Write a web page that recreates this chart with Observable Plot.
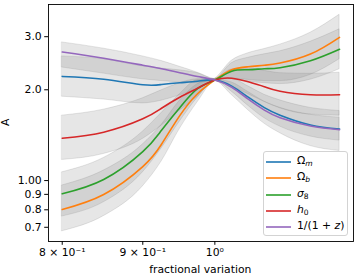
<!DOCTYPE html>
<html><head><meta charset="utf-8">
<script src="https://cdn.jsdelivr.net/npm/d3@7"></script>
<script src="https://cdn.jsdelivr.net/npm/@observablehq/plot@0.6"></script>
<style>
body{margin:0;background:#fff;}
#wrap{position:relative;width:357px;height:277px;font-family:"DejaVu Sans",sans-serif;}
.leg{position:absolute;left:263px;top:151px;width:85px;height:85px;border:1px solid #d3d3d3;border-radius:3px;background:rgba(255,255,255,0.8);box-sizing:border-box;font-size:10.8px;color:#000;}
.row{position:absolute;left:0;height:14px;width:84px;}
.row svg{position:absolute;left:2px;top:0;}
.row span{position:absolute;left:33px;top:-1px;white-space:nowrap;line-height:14px;}
sub{font-size:0.7em;vertical-align:-0.25em;}
i{font-style:italic;}
</style></head><body><div id="wrap"></div>
<script>
// fractional variation (x)
const xs = [0.8, 0.85, 0.9, 0.925, 0.95, 0.975, 1, 1.025, 1.05, 1.075, 1.1, 1.15, 1.2];

// central curves of A
const omegaM = [2.215, 2.168, 2.079, 2.082, 2.111, 2.135, 2.155, 2.056, 1.890, 1.745, 1.648, 1.529, 1.483];
const omegaB = [0.802, 0.899, 1.113, 1.320, 1.642, 1.941, 2.155, 2.331, 2.385, 2.413, 2.453, 2.627, 2.985];
const sigma8 = [0.904, 1.008, 1.247, 1.468, 1.745, 2.017, 2.155, 2.305, 2.331, 2.349, 2.367, 2.497, 2.726];
const h0     = [1.382, 1.447, 1.602, 1.737, 1.890, 2.025, 2.155, 2.185, 2.127, 2.048, 1.978, 1.926, 1.926];
const scaleF = [2.668, 2.545, 2.413, 2.349, 2.279, 2.213, 2.155, 2.040, 1.862, 1.712, 1.617, 1.516, 1.475];

// uncertainty bands (lower / upper)
const omegaMLo = [1.897, 1.857, 1.803, 1.840, 1.917, 2.007, 2.138, 1.922, 1.711, 1.545, 1.436, 1.302, 1.254];
const omegaMHi = [2.580, 2.526, 2.392, 2.352, 2.320, 2.270, 2.170, 2.171, 2.053, 1.926, 1.845, 1.742, 1.701];
const omegaBLo = [0.679, 0.762, 0.956, 1.156, 1.482, 1.817, 2.138, 2.180, 2.157, 2.138, 2.138, 2.241, 2.526];
const omegaBHi = [0.963, 1.079, 1.317, 1.529, 1.839, 2.088, 2.174, 2.496, 2.643, 2.729, 2.823, 3.092, 3.546];
const sigma8Lo = [0.760, 0.847, 1.064, 1.278, 1.568, 1.880, 2.138, 2.168, 2.127, 2.104, 2.089, 2.160, 2.340];
const sigma8Hi = [1.065, 1.188, 1.452, 1.675, 1.933, 2.153, 2.172, 2.450, 2.554, 2.622, 2.683, 2.886, 3.174];
const h0Lo     = [1.171, 1.225, 1.374, 1.521, 1.705, 1.893, 2.138, 2.050, 1.933, 1.825, 1.736, 1.655, 1.642];
const h0Hi     = [1.642, 1.718, 1.874, 1.992, 2.102, 2.168, 2.173, 2.336, 2.352, 2.311, 2.271, 2.260, 2.279];
const scaleFLo = [2.371, 2.263, 2.166, 2.138, 2.118, 2.111, 2.144, 1.972, 1.770, 1.611, 1.510, 1.400, 1.357];
const scaleFHi = [2.871, 2.738, 2.581, 2.491, 2.384, 2.279, 2.163, 2.116, 1.967, 1.828, 1.743, 1.653, 1.617];

const seriesLabels = ["Ω<sub><i>m</i></sub>", "Ω<sub><i>b</i></sub>", "<i>σ</i><sub>8</sub>", "<i>h</i><sub>0</sub>", "1/(1 + <i>z</i>)"];
const colors = ["#1f77b4", "#ff7f0e", "#2ca02c", "#d62728", "#9467bd"];

const xTicks = [0.8, 0.9, 1];
const xTickLabels = ["8 × 10⁻¹", "9 × 10⁻¹", "10⁰"];
const yTicks = [0.7, 0.8, 0.9, 1, 2, 3];
const yTickLabels = ["0.7", "0.8", "0.9", "1.00", "2.0", "3.0"];

const centers = [omegaM, omegaB, sigma8, h0, scaleF];
const lows = [omegaMLo, omegaBLo, sigma8Lo, h0Lo, scaleFLo];
const highs = [omegaMHi, omegaBHi, sigma8Hi, h0Hi, scaleFHi];

const rows = [];
centers.forEach((v, s) => xs.forEach((x, i) => rows.push({s, x, y: v[i], lo: lows[s][i], hi: highs[s][i]})));

const W = 357, H = 277;
const chart = Plot.plot({
  width: W, height: H,
  marginLeft: 48, marginRight: 4, marginTop: 4, marginBottom: 36,
  style: {fontFamily: "DejaVu Sans, sans-serif", fontSize: "10.8px", color: "#000", background: "#fff"},
  x: {type: "log", domain: [0.7841, 1.2247]},
  y: {type: "log", domain: [0.628, 3.836]},
  marks: [
    Plot.areaY(rows, {x: "x", y1: "lo", y2: "hi", z: "s", fill: "gray", fillOpacity: 0.2, stroke: "gray", strokeOpacity: 0.2, strokeWidth: 1, curve: "monotone-x"}),
    ...centers.map((v, s) => Plot.line(rows.filter(r => r.s === s), {x: "x", y: "y", stroke: colors[s], strokeWidth: 1.6, curve: "natural"})),
    Plot.frame({stroke: "#000", strokeWidth: 0.9}),
    Plot.axisX({ticks: xTicks, tickFormat: d => xTickLabels[xTicks.indexOf(d)], tickSize: 3.8, tickPadding: 3, label: null}),
    Plot.axisY({ticks: yTicks, tickFormat: d => yTickLabels[yTicks.indexOf(d)], tickSize: 3.8, tickPadding: 3, label: null})
  ]
});
document.getElementById("wrap").appendChild(chart);

const svg = d3.select(chart);
svg.append("text").attr("x", 200.3).attr("y", 272.5).attr("text-anchor", "middle")
  .attr("fill", "#000").style("font-size", "10.8px").text("fractional variation");
svg.append("text").attr("transform", "translate(9,122.4) rotate(-90)").attr("text-anchor", "middle")
  .attr("fill", "#000").style("font-size", "10.8px").text("A");

// legend
const leg = d3.select("#wrap").append("div").attr("class", "leg");
seriesLabels.forEach((lab, i) => {
  const row = leg.append("div").attr("class", "row").style("top", (3 + i * 16.3) + "px");
  const sw = row.append("svg").attr("width", 28).attr("height", 14);
  sw.append("line").attr("x1", 0).attr("x2", 25).attr("y1", 7).attr("y2", 7)
    .attr("stroke", colors[i]).attr("stroke-width", 1.6);
  row.append("span").html(lab);
});
</script></body></html>
